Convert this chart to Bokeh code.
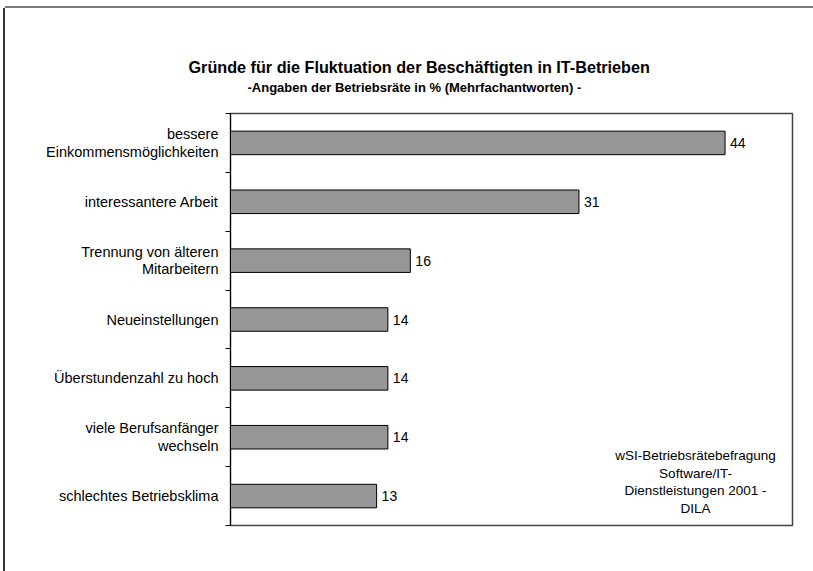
from bokeh.plotting import figure
from bokeh.models import Range1d, FixedTicker, Label, Title, ColumnDataSource
from bokeh.core.properties import value
from bokeh.embed import file_html
from bokeh.resources import INLINE

# ---- data ----
categories = [
    "bessere\nEinkommensmöglichkeiten",
    "interessantere Arbeit",
    "Trennung von älteren\nMitarbeitern",
    "Neueinstellungen",
    "Überstundenzahl zu hoch",
    "viele Berufsanfänger\nwechseln",
    "schlechtes Betriebsklima",
]
values = [44, 31, 16, 14, 14, 14, 13]
title_text = "Gründe für die Fluktuation der Beschäftigten in IT-Betrieben"
subtitle_text = "-Angaben der Betriebsräte in % (Mehrfachantworten) -"
source_lines = ["wSI-Betriebsrätebefragung", "Software/IT-", "Dienstleistungen 2001 -", "DILA"]
x_max = 50

FONT = "Liberation Sans"
n = len(categories)
ys = [n - 1 - i + 0.5 for i in range(n)]
src = ColumnDataSource(dict(y=ys, v=values, lab=[str(v) for v in values]))

# figure shifted to page (5, 8); outer chart frame drawn as a 2px shadow at left/top
ORIG_X, ORIG_Y = 5, 8
W, H = 808, 563
FL, FT, FR, FB = 230, 113, 792, 525  # plot area on the page
BL, BT = FL - ORIG_X, FT - ORIG_Y
FW, FH = FR - FL, FB - FT
BR, BB = W - BL - FW, H - BT - FH


def dx(page_x):
    return (page_x - FL) / FW * x_max


def dy(page_y):
    return (FB - page_y) / FH * n


p = figure(width=W, height=H, output_backend="svg", toolbar_location=None,
           x_range=Range1d(0, x_max), y_range=Range1d(0, n),
           x_axis_location=None,
           min_border_left=BL, min_border_right=BR,
           min_border_top=BT, min_border_bottom=BB)
p.styles = {"transform": f"translate({ORIG_X}px, {ORIG_Y}px)",
            "box-shadow": "-2px 0 0 0 #333333, 0 -2px 0 0 #7a7a7a"}
p.grid.visible = False
p.outline_line_color = "#444444"
p.outline_line_width = 1.5
p.background_fill_color = "white"
p.border_fill_color = "white"

# main title (outermost)
p.title.text = title_text
p.title.align = "left"
p.title.offset = 188 - FL
p.title.text_font = FONT
p.title.text_font_style = "bold"
p.title.text_font_size = "16.2px"
p.title.text_color = "black"
p.title.standoff = 0

# spacer directly above the plot area (white, so it takes space but is not seen)
p.add_layout(Title(text=".", text_font_size="2px", text_color="white", standoff=13), "above")
# subtitle
p.add_layout(Title(text=subtitle_text, align="left", offset=247 - FL,
                   text_font=FONT, text_font_style="bold", text_font_size="13px",
                   text_color="black", standoff=5), "above")

p.hbar(y="y", left=0, right="v", height=0.4, source=src,
       fill_color="#969696", line_color="black", line_width=1)
p.text(x="v", y="y", text="lab", source=src, x_offset=5,
       text_baseline="middle", text_align="left",
       text_font=value(FONT), text_font_size="14px", text_color="black")

ax = p.yaxis[0]
ax.ticker = FixedTicker(ticks=ys, minor_ticks=list(range(n + 1)))
ax.major_label_overrides = {y: c for y, c in zip(ys, categories)}
ax.major_tick_out = 0
ax.major_tick_in = 0
ax.minor_tick_out = 5
ax.minor_tick_in = 0
ax.minor_tick_line_color = "black"
ax.axis_line_color = "black"
ax.major_label_standoff = 7
ax.major_label_text_font = FONT
ax.major_label_text_font_size = "14.5px"
ax.major_label_text_color = "black"
ax.major_label_text_line_height = 1.1

for i, line in enumerate(source_lines):
    p.add_layout(Label(x=dx(695), y=dy(455 + 17.5 * i), text=line, text_align="center",
                       text_baseline="middle", text_font=FONT,
                       text_font_size="13.5px", text_color="black"))

open("out.html", "w").write(file_html(p, INLINE))
